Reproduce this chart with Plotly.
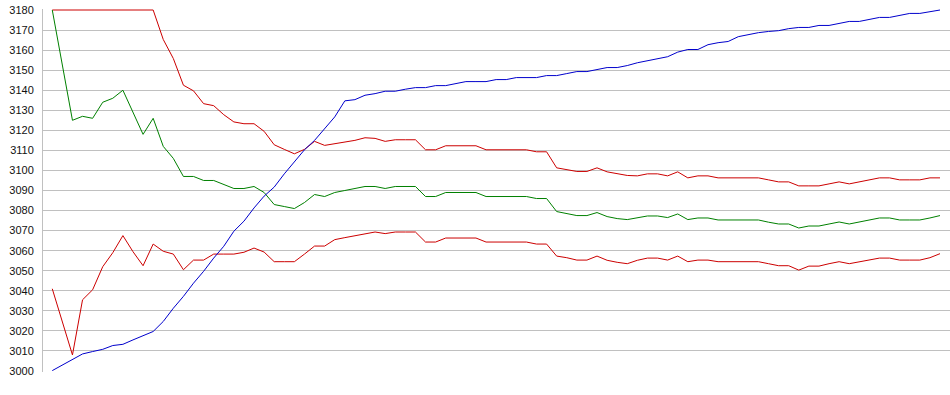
import plotly.graph_objects as go

idx = list(range(89))

middle = [3180, 3152, 3125, 3127, 3126, 3134, 3136, 3140, 3129, 3118,
          3126, 3112, 3106, 3097, 3097, 3095, 3095, 3093, 3091, 3091,
          3092, 3089, 3083, 3082, 3081, 3084, 3088, 3087, 3089, 3090,
          3091, 3092, 3092, 3091, 3092, 3092, 3092, 3087, 3087, 3089,
          3089, 3089, 3089, 3087, 3087, 3087, 3087, 3087, 3086, 3086,
          3079.5, 3078.5, 3077.5, 3077.5, 3079, 3077, 3076, 3075.5, 3076.3, 3077.3,
          3077.3, 3076.5, 3078.3, 3075.5, 3076.3, 3076.3, 3075.3, 3075.3, 3075.3, 3075.3,
          3075.3, 3074.2, 3073.3, 3073.3, 3071.3, 3072.3, 3072.3, 3073.3, 3074.3, 3073.3,
          3074.3, 3075.3, 3076.3, 3076.3, 3075.3, 3075.3, 3075.3, 3076.3, 3077.5]

upper = [3180, 3180, 3180, 3180, 3180, 3180, 3180, 3180, 3180, 3180,
         3180, 3165.3, 3155.8, 3142.5, 3139.7, 3133.3, 3132.3, 3127.8, 3124.2, 3123.3,
         3123.3, 3119.5, 3112.8, 3110.5, 3108.3, 3110.5, 3114.5, 3112.5, 3113.3, 3114.2,
         3115, 3116.3, 3116, 3114.5, 3115.3, 3115.3, 3115.3, 3110.3, 3110.3, 3112.3,
         3112.3, 3112.3, 3112.3, 3110.3, 3110.3, 3110.3, 3110.3, 3110.3, 3109.3, 3109.3,
         3101.3, 3100.5, 3099.5, 3099.5, 3101.3, 3099.3, 3098.3, 3097.5, 3097.3, 3098.3,
         3098.3, 3097.3, 3099.3, 3096.3, 3097.3, 3097.3, 3096.3, 3096.3, 3096.3, 3096.3,
         3096.3, 3095.3, 3094.3, 3094.3, 3092.3, 3092.3, 3092.3, 3093.3, 3094.3, 3093.3,
         3094.3, 3095.3, 3096.3, 3096.3, 3095.3, 3095.3, 3095.3, 3096.3, 3096.3]

lower = [3041, 3025, 3008, 3035.5, 3040.5, 3052, 3059, 3067.5, 3059.5, 3052.5,
         3063.3, 3059.7, 3058.3, 3050.5, 3055.3, 3055.3, 3058.3, 3058.3, 3058.3, 3059.2,
         3061.3, 3059.3, 3054.5, 3054.5, 3054.5, 3058.3, 3062.3, 3062.3, 3065.5, 3066.5,
         3067.5, 3068.5, 3069.3, 3068.5, 3069.3, 3069.3, 3069.3, 3064.3, 3064.3, 3066.3,
         3066.3, 3066.3, 3066.3, 3064.3, 3064.3, 3064.3, 3064.3, 3064.3, 3063.3, 3063.3,
         3057.3, 3056.5, 3055.3, 3055.3, 3057.3, 3055.2, 3054.2, 3053.5, 3055.2, 3056.3,
         3056.3, 3055.3, 3057.3, 3054.5, 3055.3, 3055.3, 3054.5, 3054.5, 3054.5, 3054.5,
         3054.5, 3053.5, 3052.5, 3052.5, 3050.3, 3052.3, 3052.3, 3053.5, 3054.5, 3053.5,
         3054.5, 3055.3, 3056.3, 3056.3, 3055.3, 3055.3, 3055.3, 3056.5, 3058.5]

price = [3000.2, 3003, 3005.5, 3008.5, 3009.7, 3010.8, 3012.7, 3013.3, 3015.5, 3017.5,
         3019.7, 3024.7, 3031.3, 3037.2, 3043.8, 3049.7, 3056.3, 3062.2, 3069.7, 3074.7,
         3081.3, 3087.2, 3091.7, 3098.3, 3104.2, 3110.3, 3115, 3120.8, 3126.7, 3134.7,
         3135.3, 3137.5, 3138.3, 3139.5, 3139.5, 3140.5, 3141.3, 3141.3, 3142.3, 3142.3,
         3143.3, 3144.3, 3144.3, 3144.3, 3145.3, 3145.3, 3146.3, 3146.3, 3146.3, 3147.3,
         3147.3, 3148.3, 3149.3, 3149.3, 3150.3, 3151.3, 3151.3, 3152.3, 3153.7, 3154.7,
         3155.7, 3156.7, 3159, 3160.3, 3160.3, 3162.7, 3163.7, 3164.3, 3166.7, 3167.7,
         3168.7, 3169.3, 3169.7, 3170.7, 3171.3, 3171.3, 3172.3, 3172.3, 3173.3, 3174.3,
         3174.3, 3175.3, 3176.3, 3176.3, 3177.3, 3178.3, 3178.3, 3179.3, 3180]

y_ticks = list(range(3000, 3181, 10))

RED = "#cc0000"
GREEN = "#008000"
BLUE = "#0000cc"

fig = go.Figure()
fig.add_trace(go.Scatter(x=idx, y=upper, mode="lines", line=dict(color=RED, width=1)))
fig.add_trace(go.Scatter(x=idx, y=lower, mode="lines", line=dict(color=RED, width=1)))
fig.add_trace(go.Scatter(x=idx, y=middle, mode="lines", line=dict(color=GREEN, width=1)))
fig.add_trace(go.Scatter(x=idx, y=price, mode="lines", line=dict(color=BLUE, width=1)))

fig.update_layout(
    width=950, height=395,
    margin=dict(l=43, r=0, t=9, b=23, autoexpand=False),
    paper_bgcolor="white", plot_bgcolor="white",
    showlegend=False, hovermode=False,
    font=dict(family="Liberation Sans, Arial, sans-serif", size=11, color="#111111"),
    xaxis=dict(range=[-0.92, 88.99], showgrid=False, zeroline=False, automargin=False,
               showticklabels=False, ticks="", showline=False, fixedrange=True),
    yaxis=dict(range=[2999.5, 3180.5], tickvals=y_ticks, ticktext=[str(v) for v in y_ticks],
               showgrid=True, gridcolor="#c0c0c0", gridwidth=1, zeroline=False,
               showline=True, linecolor="#c0c0c0", linewidth=1, automargin=False,
               ticks="", ticklabelstandoff=6, fixedrange=True),
)

fig.write_html(
    "out.html",
    config={"displayModeBar": False, "staticPlot": True},
    post_script="document.body.style.margin='0';document.body.style.overflow='hidden';",
)
